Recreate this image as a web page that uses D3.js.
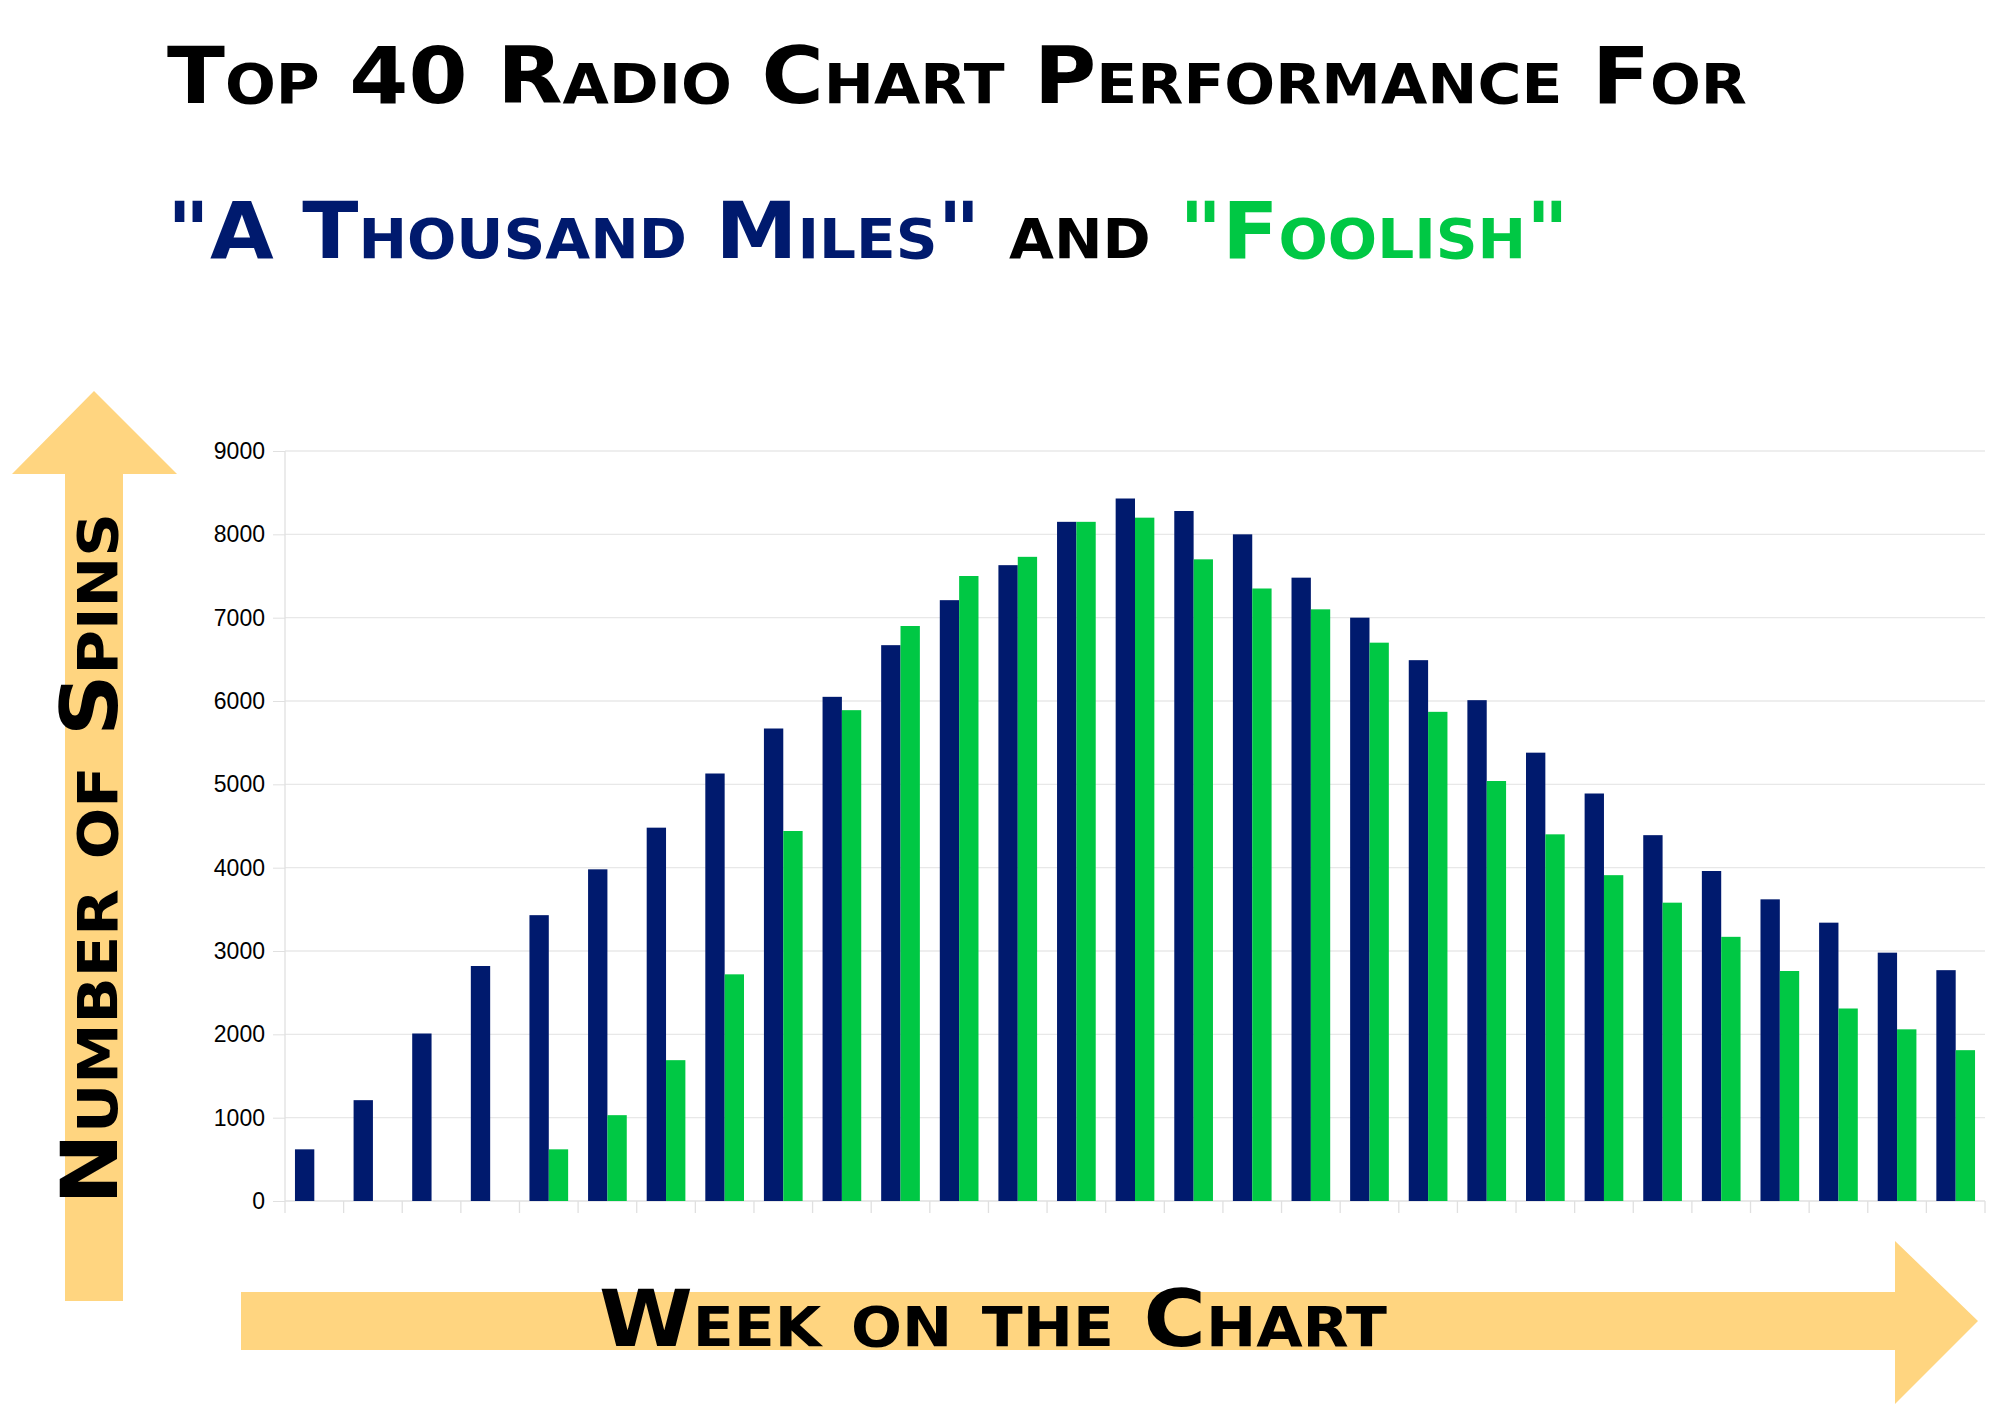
<!DOCTYPE html>
<html><head><meta charset="utf-8">
<script src="https://cdn.jsdelivr.net/npm/d3@7"></script>
<style>body{margin:0;background:#fff}svg{display:block}</style>
</head><body>
<svg id="c" width="2000" height="1426"></svg>
<script>
const weeks = d3.range(1, 30);
const thousandMiles = [620,1210,2010,2820,3430,3980,4480,5130,5670,6050,6670,7210,7630,8150,8430,8280,8000,7480,7000,6490,6010,5380,4890,4390,3960,3620,3340,2980,2770];
const foolish = [0,0,0,0,620,1030,1690,2720,4440,5890,6900,7500,7730,8150,8200,7700,7350,7100,6700,5870,5040,4400,3910,3580,3170,2760,2310,2060,1810];
const yTicks = [0,1000,2000,3000,4000,5000,6000,7000,8000,9000];
const seriesNames = ["thousandMiles","foolish"];
const colors = {thousandMiles:"#001a6e", foolish:"#00c844"};

const svg = d3.select("#c");
const L=285, R=1985, T=451, B=1201;
const x = d3.scaleBand().domain(weeks).range([L,R]).paddingInner(0.34).paddingOuter(0.17);
const xb = d3.scaleBand().domain(weeks).range([L,R]);
const xs = d3.scaleBand().domain(seriesNames).range([0,x.bandwidth()]);
const y = d3.scaleLinear().domain([0,9000]).range([B,T]);

// arrows
const arrowC="#ffd580";
svg.append("path").attr("fill",arrowC)
  .attr("d","M65,1301 L65,474 L12,474 L94,391 L177,474 L123,474 L123,1301 Z");
svg.append("path").attr("fill",arrowC)
  .attr("d","M241,1292 L1895,1292 L1895,1241 L1978,1321 L1895,1404 L1895,1350 L241,1350 Z");

// grid
svg.append("g").selectAll("line").data(yTicks.slice(1)).join("line")
  .attr("x1",L).attr("x2",R).attr("y1",d=>y(d)).attr("y2",d=>y(d))
  .attr("stroke","#e8e8e8").attr("stroke-width",1.3);
svg.append("line").attr("x1",L).attr("x2",L).attr("y1",T).attr("y2",B+12).attr("stroke","#e0e0e0").attr("stroke-width",1.3);

const ya = svg.append("g").attr("transform",`translate(${L},0)`)
  .call(d3.axisLeft(y).tickValues(yTicks).tickSize(12).tickPadding(8).tickFormat(d3.format("d")));
ya.select(".domain").remove();
ya.selectAll("line").attr("stroke","#e0e0e0");
ya.selectAll("text").attr("font-family","Liberation Sans, Arial").attr("font-size",23).attr("fill","#000");

// x axis line & ticks at band boundaries
svg.append("line").attr("x1",L).attr("x2",R).attr("y1",B).attr("y2",B).attr("stroke","#e0e0e0").attr("stroke-width",1.3);
svg.append("g").selectAll("line").data(weeks).join("line")
  .attr("x1",d=>xb(d)+xb.bandwidth()).attr("x2",d=>xb(d)+xb.bandwidth())
  .attr("y1",B).attr("y2",B+12).attr("stroke","#e0e0e0").attr("stroke-width",1.3);

// bars
const data = weeks.map((w,i)=>({w, thousandMiles:thousandMiles[i], foolish:foolish[i]}));
const g = svg.append("g").selectAll("g").data(data).join("g")
  .attr("transform",d=>`translate(${x(d.w)},0)`);
g.selectAll("rect").data(d=>seriesNames.map(k=>({k,v:d[k]}))).join("rect")
  .attr("x",d=>xs(d.k)).attr("width",xs.bandwidth())
  .attr("y",d=>y(d.v)).attr("height",d=>B-y(d.v))
  .attr("fill",d=>colors[d.k]);

// titles
const tf = "'DejaVu Sans', sans-serif";
svg.append("text").attr("x",167).attr("y",103).attr("font-family",tf).attr("font-weight","bold")
  .attr("font-size",78).style("font-variant","small-caps").attr("textLength",1580).attr("lengthAdjust","spacingAndGlyphs")
  .text("Top 40 Radio Chart Performance For");
const t2 = svg.append("text").attr("x",167).attr("y",258).attr("font-family",tf).attr("font-weight","bold")
  .attr("font-size",78).style("font-variant","small-caps").attr("textLength",1402).attr("lengthAdjust","spacingAndGlyphs");
t2.append("tspan").attr("fill","#001a6e").text('"A Thousand Miles"');
t2.append("tspan").attr("fill","#000").text(" and ");
t2.append("tspan").attr("fill","#00c844").text('"Foolish"');

svg.append("text").attr("transform","translate(117,1205) rotate(-90)").attr("font-family",tf).attr("font-weight","bold")
  .attr("font-size",78).style("font-variant","small-caps").attr("textLength",692).attr("lengthAdjust","spacingAndGlyphs")
  .text("Number of Spins");
svg.append("text").attr("x",599).attr("y",1346).attr("font-family",tf).attr("font-weight","bold")
  .attr("font-size",78).style("font-variant","small-caps").attr("textLength",788).attr("lengthAdjust","spacingAndGlyphs")
  .text("Week on the Chart");
</script>
</body></html>
